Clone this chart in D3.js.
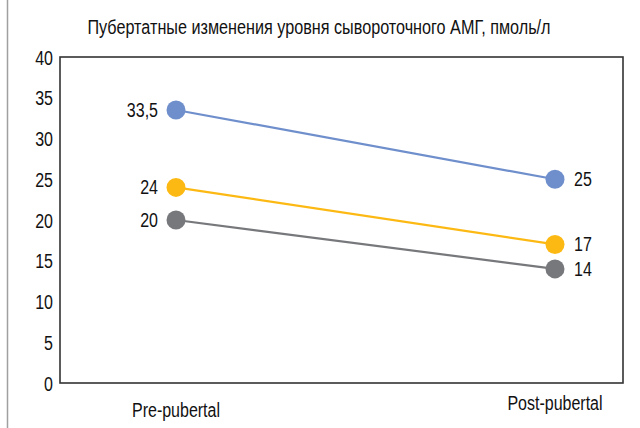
<!DOCTYPE html>
<html><head><meta charset="utf-8">
<script src="https://cdn.jsdelivr.net/npm/d3@7/dist/d3.min.js"></script>
<style>
body{margin:0;background:#fff;}
svg{display:block;}
text{font-family:"Liberation Sans",Arial,sans-serif;fill:#111;}
</style></head>
<body><svg id="c" width="640" height="428"></svg>
<script>
const title = "Пубертатные изменения уровня сывороточного АМГ, пмоль/л";
const categories = ["Pre-pubertal", "Post-pubertal"];
const seriesBlue = [33.5, 25];
const seriesYellow = [24, 17];
const seriesGray = [20, 14];
const labelsBlue = ["33,5", "25"];
const labelsYellow = ["24", "17"];
const labelsGray = ["20", "14"];
const yTicks = [0, 5, 10, 15, 20, 25, 30, 35, 40];

const series = [
  {values: seriesBlue, labels: labelsBlue, color: "#6f8fcc"},
  {values: seriesYellow, labels: labelsYellow, color: "#fdb913"},
  {values: seriesGray, labels: labelsGray, color: "#77787b"}
];

const SX = 0.8;
const FS = 20;
const svg = d3.select("#c");
const box = {left: 60, right: 623, top: 57, bottom: 383};

function ctext(parent, x, y, str, size, anchor, sx) {
  const g = parent.append("g").attr("transform", `translate(${x},${y}) scale(${sx || SX},1)`);
  return g.append("text").attr("x", 0).attr("y", 0).attr("font-size", size)
    .attr("text-anchor", anchor || "start").text(str);
}

// left frame line
svg.append("line").attr("x1", 7.5).attr("x2", 7.5).attr("y1", 0).attr("y2", 428)
  .attr("stroke", "#a0a0a0").attr("stroke-width", 1.5);

ctext(svg, 319, 34, title, FS, "middle", 0.81);

const y = d3.scaleLinear().domain([0, 40]).range([box.bottom, box.top]);
const x = d3.scalePoint().domain(categories).range([176, 555]);

// plot box
svg.append("rect").attr("x", box.left).attr("y", box.top)
  .attr("width", box.right - box.left).attr("height", box.bottom - box.top)
  .attr("fill", "none").attr("stroke", "#333").attr("stroke-width", 1.6);

const yAxis = d3.axisLeft(y).tickValues(yTicks).tickSize(0).tickPadding(8);
const ga = svg.append("g").attr("transform", `translate(${box.left},0)`).call(yAxis);
ga.select(".domain").remove();
ga.selectAll(".tick text").attr("font-size", FS).attr("fill", "#111")
  .attr("transform", `scale(${SX},1)`)
  .attr("x", -7 / SX).attr("dy", "0.36em")
  .style("font-family", '"Liberation Sans",Arial,sans-serif');

// category labels
categories.forEach((c, i) => {
  ctext(svg, x(c), i === 0 ? 417 : 410, c, FS, "middle");
});

const line = d3.line().x((d, i) => x(categories[i])).y(d => y(d));

series.forEach(s => {
  svg.append("path").datum(s.values).attr("d", line)
    .attr("fill", "none").attr("stroke", s.color).attr("stroke-width", 2.2);
  svg.selectAll(null).data(s.values).enter().append("circle")
    .attr("cx", (d, i) => x(categories[i])).attr("cy", d => y(d)).attr("r", 9.5)
    .attr("fill", s.color);
  s.values.forEach((d, i) => {
    const left = i === 0;
    ctext(svg, left ? x(categories[i]) - 18 : x(categories[i]) + 19, y(d) + 7,
      s.labels[i], FS, left ? "end" : "start");
  });
});
</script></body></html>
